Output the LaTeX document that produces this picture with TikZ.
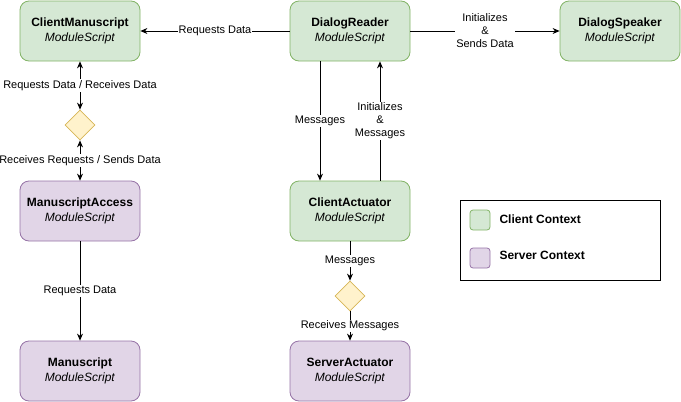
\documentclass[tikz,border=0pt]{standalone}
\usepackage{fontspec}
\setmainfont{Liberation Sans}
\usetikzlibrary{shapes.geometric,arrows.meta}

\definecolor{clientfill}{HTML}{D5E8D4}
\definecolor{clientline}{HTML}{82B366}
\definecolor{serverfill}{HTML}{E1D5E7}
\definecolor{serverline}{HTML}{9673A6}
\definecolor{gatefill}{HTML}{FFF2CC}
\definecolor{gateline}{HTML}{D6B656}

\newcommand{\modbox}[1]{\textbf{#1}\\\textit{ModuleScript}}

\tikzset{
  module/.style={rounded corners=9pt, minimum width=120pt, minimum height=60pt,
    align=center, font=\fontsize{12}{15}\selectfont, line width=0.8pt},
  client/.style={module, draw=clientline, fill=clientfill},
  server/.style={module, draw=serverline, fill=serverfill},
  gate/.style={diamond, draw=gateline, fill=gatefill, minimum width=30pt,
    minimum height=30pt, inner sep=0pt, line width=0.8pt},
  flow/.style={-{Stealth[length=7pt,width=6pt]}, line width=0.8pt},
  twoway/.style={{Stealth[length=7pt,width=6pt]}-{Stealth[length=7pt,width=6pt]}, line width=0.8pt},
  lbl/.style={fill=white, font=\fontsize{11}{13}\selectfont, inner sep=1pt, align=center},
  swatch/.style={rounded corners=3pt, minimum width=20pt, minimum height=20pt, line width=0.8pt},
  legendtext/.style={anchor=west, font=\fontsize{12}{14}\selectfont\bfseries}
}

\begin{document}
\begin{tikzpicture}[x=1pt,y=-1pt]
\useasboundingbox (0,0) rectangle (681,402);

% Top row
\node[client] (climan) at (80,31) {\modbox{ClientManuscript}};
\node[client] (reader) at (350,31) {\modbox{DialogReader}};
\node[client] (speaker) at (620,31) {\modbox{DialogSpeaker}};

% Left column
\node[gate] (gateA) at (80,125) {};
\node[server] (access) at (80,211) {\modbox{ManuscriptAccess}};
\node[server] (manuscript) at (80,371) {\modbox{Manuscript}};

% Middle column
\node[client] (cliact) at (350,211) {\modbox{ClientActuator}};
\node[gate] (gateB) at (350,296) {};
\node[server] (servact) at (350,371) {\modbox{ServerActuator}};

% Connectors
\draw[flow] (reader) -- node[lbl] {Requests Data} (climan);
\draw[flow] (reader) -- node[lbl] {Initializes\\\&\\Sends Data} (speaker);
\draw[twoway] (climan) -- node[lbl] {Requests Data / Receives Data} (gateA);
\draw[twoway] (gateA) -- node[lbl] {Receives Requests / Sends Data} (access);
\draw[flow] (access) -- node[lbl] {Requests Data} (manuscript);
\draw[flow] ([xshift=-30pt]reader.south) -- node[lbl] {Messages} ([xshift=-30pt]cliact.north);
\draw[flow] ([xshift=30pt]cliact.north) -- node[lbl] {Initializes\\\&\\Messages} ([xshift=30pt]reader.south);
\draw[flow] (cliact) -- node[lbl] {Messages} (gateB);
\draw[flow] (gateB) -- node[lbl] {Receives Messages} (servact);

% Legend
\draw[line width=0.8pt] (460,200) rectangle (660,280);
\node[swatch, draw=clientline, fill=clientfill] (keyA) at (480,220) {};
\node[swatch, draw=serverline, fill=serverfill] (keyB) at (480,258) {};
\node[legendtext] (keyAtext) at (496,219) {Client Context};
\node[legendtext] (keyBtext) at (496,255) {Server Context};

\end{tikzpicture}
\end{document}
